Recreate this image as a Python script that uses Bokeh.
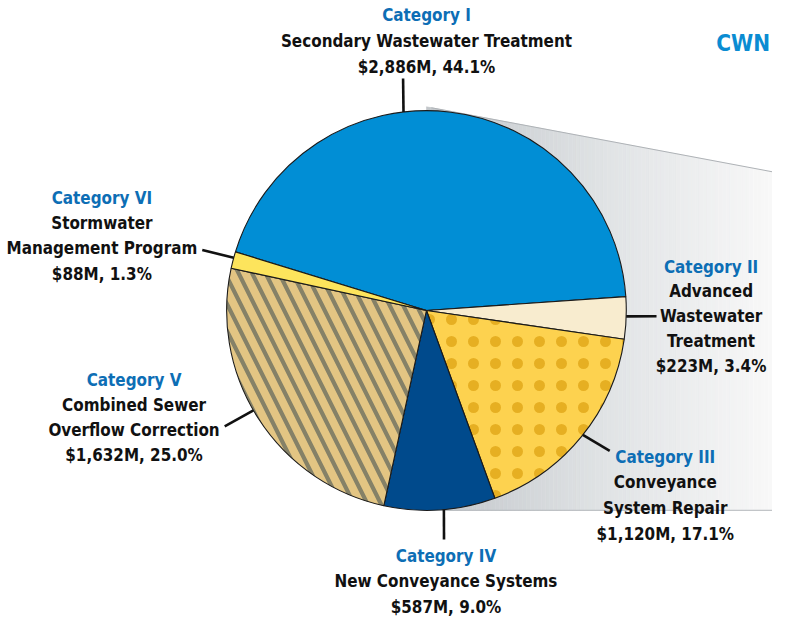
import math
from bokeh.plotting import figure
from bokeh.models import Range1d, ColumnDataSource
from bokeh.core.properties import value
from bokeh.embed import file_html
from bokeh.resources import INLINE

# ---------------- data ----------------
categories = ["Category I", "Category II", "Category III", "Category IV", "Category V", "Category VI"]
names = [
    ["Secondary Wastewater Treatment"],
    ["Advanced", "Wastewater", "Treatment"],
    ["Conveyance", "System Repair"],
    ["New Conveyance Systems"],
    ["Combined Sewer", "Overflow Correction"],
    ["Stormwater", "Management Program"],
]
needs_musd = [2886, 223, 1120, 587, 1632, 88]
percents = [44.1, 3.4, 17.1, 9.0, 25.0, 1.3]
title_text = "CWN"

# ---------------- layout / style ----------------
W, H = 772, 618
S = H / 634.0                      # reference px -> screen px
XMAX = W / S

def Y(yp):
    return 634.0 - yp

CX, CY, R = 437.0, 318.0, 205.0
START_DEG = -8.3                   # where Category II begins (counter-clockwise order below)
wedge_order = [1, 0, 5, 4, 3, 2]   # II, I, VI, V, IV, III going counter-clockwise

fill_colors = ["#018ED5", "#F8ECCF", "#FDD24F", "#004A8C", "#E3C583", "#FDE45C"]
hatch_pat = [" ", " ", "dot", " ", "left_diagonal_line", " "]
hatch_cols = ["#000000", "#000000", "#E6AF22", "#000000", "#858167", "#000000"]
hatch_scales = [12, 12, 22, 12, 27, 12]
hatch_weights = [1, 1, 1.5, 1, 4.2, 1]

# leader: angle on circle (deg), end point (ref px)
leaders = {
    0: (96.6, (413, 80)),
    1: (-1.7, (673, 324)),
    2: (-38.5, (625, 462)),
    3: (275.0, (455, 553)),
    4: (210.0, (230, 437)),
    5: (164.7, (207, 256)),
}
# label block: center x, first line y, line step (ref px)
label_pos = {
    0: (437, 15, 26.5),
    1: (729, 273, 25.5),
    2: (682, 468, 26.3),
    3: (457, 570, 26.0),
    4: (137, 389, 25.7),
    5: (104, 203, 25.7),
}

FONT = value("DejaVu Sans Condensed")
FS = "%.1fpx" % (17.3 * S)
BLUE = "#0D6EB5"
BLACK = "#111111"

p = figure(width=W, height=H, x_range=Range1d(0, XMAX), y_range=Range1d(0, 634),
           toolbar_location=None, output_backend="svg", min_border=0)
p.axis.visible = False
p.grid.visible = False
p.outline_line_color = None
p.background_fill_color = "white"
p.border_fill_color = "white"

# ---------------- gradient connector behind the pie ----------------
x_a, y_a, x_b, y_b = 442.0, 110.0, 788.0, 175.0
slope = (y_b - y_a) / (x_b - x_a)
def ytop(x):
    return y_a + slope * (x - x_a)
stops = [(437.0, (194, 198, 202)), (620.0, (224, 227, 229)), (XMAX, (248, 248, 248))]
def grad(x):
    for (xa, ca), (xb, cb) in zip(stops[:-1], stops[1:]):
        if xa <= x <= xb:
            t = (x - xa) / (xb - xa)
            c = [int(round(ca[k] + t * (cb[k] - ca[k]))) for k in range(3)]
            return "#%02x%02x%02x" % tuple(c)
    return "#f8f8f8"
N = 90
xs, ys, cs = [], [], []
for i in range(N):
    x0 = 437.0 + (XMAX - 437.0) * i / N
    x1 = 437.0 + (XMAX - 437.0) * (i + 1) / N
    xs.append([x0, x1, x1, x0])
    ys.append([Y(ytop(x0)), Y(ytop(x1)), Y(523), Y(523)])
    cs.append(grad((x0 + x1) / 2))
p.patches(xs, ys, fill_color=cs, line_color=cs, line_width=0.6)
p.line([x_a, XMAX], [Y(ytop(x_a)), Y(ytop(XMAX))], line_color="#AEB2B6", line_width=1)
p.line([440, XMAX], [Y(523), Y(523)], line_color="#B4B8BC", line_width=1)

# ---------------- pie ----------------
total = float(sum(needs_musd))
starts, ends = {}, {}
a = math.radians(START_DEG)
for idx in wedge_order:
    span = 2 * math.pi * needs_musd[idx] / total
    starts[idx] = a
    ends[idx] = a + span
    a += span
src = ColumnDataSource(dict(
    start=[starts[i] for i in range(6)],
    end=[ends[i] for i in range(6)],
    fill=fill_colors, hp=hatch_pat, hc=hatch_cols, hs=hatch_scales, hw=hatch_weights,
))
p.wedge(x=CX, y=Y(CY), radius=R, start_angle="start", end_angle="end", source=src,
        fill_color="fill", line_color="#1a1a1a", line_width=1.1,
        hatch_pattern="hp", hatch_color="hc", hatch_scale="hs", hatch_weight="hw")

# ---------------- leaders ----------------
sx0, sy0, sx1, sy1 = [], [], [], []
for i in range(6):
    ang, (ex, ey) = leaders[i]
    t = math.radians(ang)
    sx0.append(CX + R * math.cos(t))
    sy0.append(Y(CY) + R * math.sin(t))
    sx1.append(ex)
    sy1.append(Y(ey))
p.segment(sx0, sy0, sx1, sy1, line_color=BLACK, line_width=2.6)

# ---------------- labels ----------------
tx, ty, tt, tc = [], [], [], []
for i in range(6):
    cx, y0, step = label_pos[i]
    lines = [categories[i]] + names[i] + ["${:,}M, {:.1f}%".format(needs_musd[i], percents[i])]
    for k, line in enumerate(lines):
        tx.append(cx)
        ty.append(Y(y0 + k * step))
        tt.append(line)
        tc.append(BLUE if k == 0 else BLACK)
p.text(x=tx, y=ty, text=tt, text_color=tc, text_font=FONT, text_font_size=FS,
       text_font_style="bold", text_align="center", text_baseline="middle")

p.text(x=[762], y=[Y(44)], text=[title_text], text_color="#0A8CD2", text_font=FONT,
       text_font_size="%.1fpx" % (23 * S), text_font_style="bold",
       text_align="center", text_baseline="middle")

open("out.html", "w").write(file_html(p, INLINE))
